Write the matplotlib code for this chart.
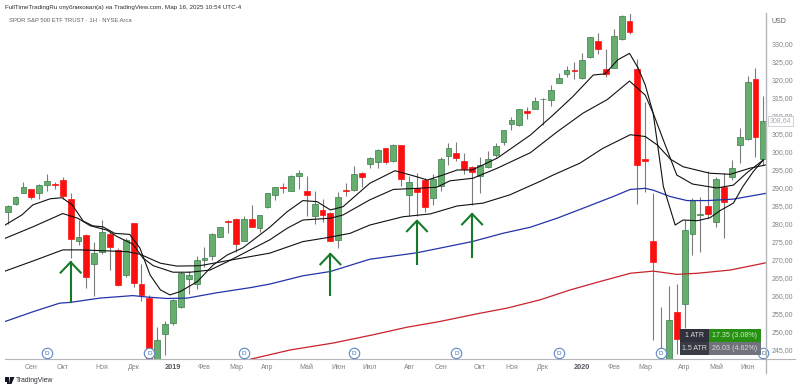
import matplotlib
matplotlib.use('Agg')
import matplotlib.pyplot as plt
from matplotlib.lines import Line2D
from matplotlib.patches import Rectangle, Polygon

W, H = 800, 390
plt.rcParams['font.family'] = ['Liberation Sans', 'DejaVu Sans']

# weekly candles
opens = [283.2, 285.4, 288.5, 289.5, 288.5, 290.6, 291.0, 291.9, 286.8, 275.2,
         276.8, 268.6, 272.1, 276.9, 272.7, 265.5, 280.0, 263.0, 259.2, 240.0,
         249.3, 252.4, 256.6, 264.5, 263.1, 269.9, 271.0, 276.3, 280.6, 281.3,
         275.1, 281.2, 278.6, 284.4, 287.9, 290.0, 289.0, 293.2, 289.0, 282.1,
         283.7, 282.8, 275.3, 289.3, 289.3, 294.1, 296.4, 296.9, 300.8, 297.4,
         301.7, 287.9, 289.7, 292.0, 287.1, 290.4, 298.8, 299.6, 297.3, 295.7,
         293.2, 295.7, 299.0, 302.7, 307.6, 307.2, 311.3, 311.8, 314.4, 314.3,
         319.1, 321.4, 322.6, 320.3, 326.1, 330.7, 322.8, 323.1, 331.1, 336.3,
         322.9, 297.9, 275.1, 236.0, 240.0, 255.4, 257.5, 276.9, 282.4, 284.9,
         280.4, 290.1, 292.8, 301.8, 303.3, 320.0, 297.8]
highs = [285.1, 287.6, 291.5, 289.6, 290.8, 293.7, 291.6, 292.9, 288.4, 280.9,
         276.9, 274.9, 280.9, 277.6, 273.1, 275.9, 280.1, 268.7, 260.1, 251.1,
         252.9, 259.0, 266.5, 266.7, 270.9, 273.4, 277.2, 279.0, 281.0, 281.4,
         282.0, 285.1, 282.3, 288.4, 290.2, 291.1, 293.4, 294.8, 293.1, 289.0,
         286.7, 283.2, 288.6, 291.1, 296.0, 294.3, 298.5, 300.6, 300.9, 301.9,
         301.8, 293.1, 293.9, 292.6, 293.7, 298.4, 302.2, 302.5, 299.4, 295.9,
         298.5, 300.1, 302.2, 305.9, 309.6, 311.8, 312.4, 315.2, 314.7, 318.4,
         321.7, 323.6, 324.7, 327.2, 331.8, 332.8, 328.3, 333.9, 337.9, 338.3,
         325.6, 313.6, 288.4, 256.7, 262.7, 263.1, 280.9, 287.0, 287.3, 294.5,
         292.9, 294.0, 297.6, 306.6, 321.0, 323.2, 315.4]
lows = [279.8, 285.2, 288.4, 286.8, 286.8, 289.0, 289.5, 286.7, 270.4, 274.0,
        262.1, 259.8, 271.5, 266.9, 262.7, 265.2, 262.4, 258.5, 240.0, 239.0,
        243.4, 251.6, 256.5, 260.4, 261.7, 267.9, 269.8, 276.1, 277.2, 272.1,
        275.0, 278.9, 277.5, 284.3, 286.5, 288.3, 289.0, 289.4, 282.0, 279.7,
        280.4, 275.1, 273.1, 287.7, 289.1, 290.2, 295.3, 295.3, 296.4, 297.1,
        290.4, 282.0, 282.0, 283.2, 285.1, 289.0, 296.2, 297.3, 293.6, 285.1,
        288.3, 295.4, 298.3, 301.7, 305.9, 307.1, 308.9, 311.7, 307.3, 312.7,
        319.0, 320.7, 320.0, 320.2, 325.8, 327.0, 320.6, 323.1, 331.0, 332.5,
        285.3, 288.7, 247.6, 236.0, 238.0, 243.7, 250.9, 271.2, 271.9, 281.5,
        278.9, 276.0, 292.0, 296.7, 303.1, 298.3, 296.2]
closes = [284.9, 287.3, 290.1, 287.4, 290.6, 291.8, 290.6, 287.5, 275.7, 276.1,
          265.2, 271.6, 277.5, 273.5, 262.9, 275.4, 263.3, 260.2, 241.5, 247.6,
          251.9, 258.6, 266.3, 265.6, 269.7, 270.3, 276.9, 278.9, 280.3, 274.2,
          281.1, 279.0, 282.2, 288.3, 290.0, 289.7, 293.2, 293.9, 287.9, 285.4,
          282.4, 275.2, 287.3, 289.0, 293.7, 292.9, 298.2, 300.4, 296.9, 301.8,
          292.3, 291.4, 288.6, 284.6, 292.2, 297.8, 300.8, 298.0, 295.1, 294.2,
          296.1, 297.8, 301.4, 305.8, 308.7, 311.7, 310.7, 314.0, 314.6, 317.0,
          320.4, 322.7, 322.2, 325.4, 331.7, 328.4, 321.4, 332.0, 337.5, 333.2,
          296.2, 297.3, 269.1, 239.0, 253.1, 247.9, 278.1, 286.5, 282.7, 282.5,
          292.2, 286.0, 295.3, 304.1, 319.2, 304.0, 308.5]

ma_fast_x = [-0.34, 1.8, 3.2, 5.4, 6.9, 8.2, 9.6, 10.8, 12.1, 13.6, 15.5, 16.8, 18.1, 19.4, 20.6,
             21.9, 24.1, 26.1, 27.9, 29.9, 33.3, 35.5, 37.5, 39.3, 41, 42.6, 46, 49.2, 52, 53.3,
             55.3, 57.1, 59, 62.2, 66.4, 69.3, 71.8, 74.4, 75.9, 77.5, 79, 80.1, 81, 82, 82.6,
             83.3, 84.8, 85.8, 87.6, 89.2, 90.5, 92.2, 93.4, 94.7, 96]
ma_fast = [279.5, 282.3, 285.1, 286.8, 287.1, 285.1, 280.6, 279.3, 279.0, 277.2, 276.9, 273.1, 265.6, 261.5, 260.1,
           261.0, 263.8, 268.4, 271.2, 273.2, 278.9, 283.2, 286.3, 286.0, 283.7, 284.6, 291.1, 294.6, 292.9, 292.0,
           293.4, 294.8, 294.8, 298.1, 304.5, 310.1, 315.2, 321.2, 321.5, 325.4, 327.2, 323.1, 318.4, 310.6, 301.3,
           290.2, 279.5, 280.9, 280.7, 281.5, 283.5, 285.6, 290.2, 294.3, 297.6]
ma_mid_x = [-0.34, 3.2, 7, 8.9, 10.5, 12.6, 13.9, 15.9, 17.2, 18.5, 21, 23.2, 25.7, 27.9, 33.3, 35.5,
            37.5, 41, 42.6, 46, 49, 52, 54.5, 56.2, 59.1, 62.2, 66.4, 69.8, 73.1, 76.2, 79, 81,
            82, 83.3, 85, 87, 90.1, 92.2, 93.9, 96]
ma_mid = [275.8, 279.0, 282.7, 281.4, 279.3, 278.1, 276.3, 274.2, 270.3, 268.2, 266.4, 266.4, 267.0, 269.3, 275.4, 278.6,
          280.9, 281.4, 282.3, 286.5, 289.4, 289.7, 290.0, 291.8, 292.5, 295.3, 299.6, 305.4, 310.6, 314.4, 319.5, 315.6,
          310.6, 303.1, 293.4, 290.9, 289.8, 290.6, 294.0, 297.6]
ma_slow_x = [-0.34, 3.2, 7, 9.2, 11.7, 15.2, 16.8, 19.4, 21.5, 24.4, 27.9, 33.3, 37.5, 40.6, 43.5, 46,
             50.2, 53.7, 57.1, 60.4, 63.8, 67.6, 69.3, 72.7, 75.6, 79.1, 81, 82.5, 84.2, 85.8, 89.2,
             91.8, 94.3, 96.3]
ma_slow = [266.7, 269.5, 272.6, 272.6, 272.4, 272.1, 271.4, 268.9, 268.1, 268.2, 269.6, 271.7, 274.9, 276.0, 277.2, 279.5,
           281.8, 282.6, 284.8, 285.6, 287.9, 291.6, 293.4, 296.7, 300.8, 304.6, 304.1, 301.8, 297.8, 295.7, 293.9,
           293.6, 295.3, 296.2]
ma_blue_x = [-0.34, 3.2, 6.6, 7.9, 11.7, 15.9, 17.7, 20.2, 22.8, 26.6, 30.8, 33.3, 37.5, 41, 46, 52,
             59, 62.9, 66.4, 69.8, 73.6, 76.9, 79.1, 81, 82, 84.2, 86.3, 88.9, 92.2, 96.3]
ma_blue = [252.7, 255.4, 257.8, 258.0, 259.2, 259.9, 259.5, 259.1, 259.2, 260.7, 262.1, 263.1, 265.4, 266.6, 270.0, 271.8,
           274.9, 277.2, 278.9, 281.4, 284.6, 287.4, 289.4, 289.7, 289.2, 287.4, 286.3, 286.3, 286.7, 288.3]
ma_red_x = [30.8, 35.9, 41.3, 46.4, 50.7, 54.9, 60, 63.4, 67.6, 71.5, 74.9, 79.1, 82, 85, 87.6, 91.8, 96.3]
ma_red = [242.2, 244.8, 246.7, 249.0, 251.1, 252.7, 255.0, 256.4, 258.7, 261.5, 263.6, 266.1, 266.7, 265.8, 266.1, 267.0, 269.0]

# green arrows: candle, tip price, tail price
arrow_x = [8, 41, 52, 59]
arrow_tip = [269.2, 271.5, 280.7, 282.6]
arrow_tail = [258.1, 260.1, 268.7, 270.7]

tick_pos = [3, 7, 12, 16, 21, 25, 29, 33, 38, 42, 46, 51, 55, 60, 64, 68, 73, 77, 81, 86, 90, 94]
tick_labels = ['Сен', 'Окт', 'Ноя', 'Дек', '2019', 'Фев', 'Мар', 'Апр', 'Май', 'Июн', 'Июл',
               'Авг', 'Сен', 'Окт', 'Ноя', 'Дек', '2020', 'Фев', 'Мар', 'Апр', 'Май', 'Июн']
price_ticks = [245, 250, 255, 260, 265, 270, 275, 280, 285, 290, 295, 300, 305, 310, 315, 320, 325, 330]
dividend_pos = [5, 18, 30, 44, 57, 70, 83, 96]

GREEN, GREEN_EDGE, RED = '#66ae6d', '#3c7a4a', '#fb1010'
AX_GRAY = '#b4b6ba'
TXT_GRAY = '#80838a'


def fx(px):
    return px / W


def fy(py):
    return 1 - py / H


fig = plt.figure(figsize=(W / 100, H / 100), dpi=100, facecolor='white')
ax = fig.add_axes([fx(5), fy(359.3), fx(760.7), fy(14) - fy(359.3)])
ax.set_xlim(-0.34, 96.3)
ax.set_ylim(242.2, 338.14)

for i in range(len(opens)):
    up = closes[i] >= opens[i]
    ax.vlines(i, lows[i], highs[i], color='#7c7c7c', lw=0.8, zorder=2)
    ax.bar(i, abs(closes[i] - opens[i]), bottom=min(opens[i], closes[i]), width=0.74,
           color=GREEN if up else RED, edgecolor=GREEN_EDGE if up else RED, lw=0.5, zorder=3)

ax.plot(ma_red_x, ma_red, color='#c8222c', lw=0.9, zorder=4)
ax.plot(ma_blue_x, ma_blue, color='#2433a8', lw=0.9, zorder=4)
ax.plot(ma_slow_x, ma_slow, color='#111111', lw=0.8, zorder=4)
ax.plot(ma_mid_x, ma_mid, color='#111111', lw=0.8, zorder=4)
ax.plot(ma_fast_x, ma_fast, color='#111111', lw=0.8, zorder=4)

for x, tip, tail in zip(arrow_x, arrow_tip, arrow_tail):
    ax.plot([x, x], [tail, tip], color='#17792a', lw=1.5, zorder=5)
    ax.plot([x - 1.27, x, x + 1.27], [tip - 2.9, tip, tip - 2.9], color='#17792a', lw=1.5, zorder=5)

for x in dividend_pos:
    ax.plot(x, 243.9, 'o', ms=7.5, mfc='white', mec='#5b86c9', mew=0.8, zorder=6, clip_on=False)
    ax.text(x, 243.9, 'D', color='#3f6fb8', fontsize=4.6, ha='center', va='center', zorder=7)

for s in ['top', 'left', 'right']:
    ax.spines[s].set_visible(False)
ax.spines['bottom'].set_color(AX_GRAY)
ax.set_xticks(tick_pos)
ax.set_xticklabels(tick_labels, fontsize=5.0, color=TXT_GRAY)
for lab in ax.get_xticklabels():
    if lab.get_text() in ('2019', '2020'):
        lab.set_fontweight('bold')
        lab.set_fontsize(5.3)
        lab.set_color('#555860')
ax.tick_params(axis='x', length=0, pad=3.5)
ax.yaxis.tick_right()
ax.set_yticks(price_ticks)
ax.set_yticklabels([f'{p},00' for p in price_ticks], fontsize=5.0, color=TXT_GRAY)
ax.tick_params(axis='y', length=0, pad=4)

# right scale line and the rest of the bottom line
fig.add_artist(Line2D([fx(765.7), fx(765.7)], [fy(13), fy(373)], color=AX_GRAY, lw=1.0))
fig.add_artist(Line2D([fx(765.7), fx(795)], [fy(359.3), fy(359.3)], color=AX_GRAY, lw=0.8))

fig.text(fx(5), fy(8), 'FullTimeTradingRu опубликовал(а) на TradingView.com, Мар 16, 2025 10:54 UTC-4',
         fontsize=4.5, color='#2c2f36', va='center')
fig.text(fx(9), fy(21), 'SPDR S&P 500 ETF TRUST · 1Н · NYSE Arca', fontsize=4.2, color='#5c5f66', va='center')
fig.text(fx(772), fy(21.5), 'USD', fontsize=5.0, color='#5c5f66', va='center')

# last price tag
fig.text(fx(780.5), fy(121), '308,64', fontsize=5.0, color='#a8abb0', ha='center', va='center', zorder=8,
         bbox=dict(boxstyle='square,pad=0.2', fc='white', ec='#c8cace', lw=0.6))

# ATR box
atr_rows = [(329, 341.7, '#2f313a', '#279012', '1 ATR', '17.35 (3.08%)', '#c9f0c0'),
            (341.7, 355, '#3a3c45', '#71737c', '1.5 ATR', '26.03 (4.62%)', '#dadbdf')]
for top, bot, c1, c2, t1, t2, tc in atr_rows:
    fig.add_artist(Rectangle((fx(680), fy(bot)), fx(29), fy(top) - fy(bot), fc=c1, ec='none', zorder=8))
    fig.add_artist(Rectangle((fx(709), fy(bot)), fx(52), fy(top) - fy(bot), fc=c2, ec='none', zorder=8))
    fig.text(fx(694.5), fy((top + bot) / 2), t1, color='#d8d9dd', fontsize=5.0, ha='center', va='center', zorder=9)
    fig.text(fx(735), fy((top + bot) / 2), t2, color=tc, fontsize=5.1, ha='center', va='center', zorder=9)

# TradingView logo
fig.add_artist(Rectangle((fx(5), fy(381.5)), fx(4), fy(377) - fy(381.5), fc='#131722', ec='none'))
fig.add_artist(Rectangle((fx(6.8), fy(384)), fx(2.2), fy(381) - fy(384), fc='#131722', ec='none'))
fig.add_artist(Polygon([(fx(10), fy(377)), (fx(14.5), fy(377)), (fx(11.5), fy(384)), (fx(9), fy(384))],
                       fc='#131722', ec='none'))
fig.text(fx(16), fy(381), 'TradingView', fontsize=4.9, color='#2c2f36', va='center')

fig.savefig('out.png', dpi=100)
